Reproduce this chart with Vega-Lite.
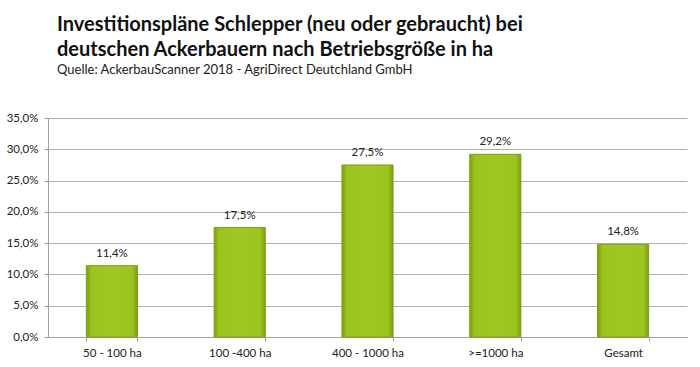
{
  "$schema": "https://vega.github.io/schema/vega-lite/v6.json",
  "width": 639,
  "height": 219,
  "autosize": {"type": "none"},
  "padding": {"left": 48, "top": 118, "right": 13, "bottom": 30},
  "background": "white",
  "title": {
    "text": ["Investitionspläne Schlepper (neu oder gebraucht) bei", "deutschen Ackerbauern nach Betriebsgröße in ha"],
    "subtitle": "Quelle: AckerbauScanner 2018 - AgriDirect Deutchland GmbH",
    "anchor": "start",
    "frame": "group",
    "dx": 9,
    "offset": 35,
    "font": "Lato",
    "fontSize": 20,
    "fontWeight": "bold",
    "lineHeight": 25,
    "color": "#111111",
    "subtitleFont": "Lato",
    "subtitleFontSize": 13,
    "subtitleColor": "#222222",
    "subtitlePadding": 4
  },
  "config": {
    "locale": {"number": {"decimal": ",", "thousands": ".", "grouping": [3], "currency": ["", " €"]}},
    "view": {"stroke": null},
    "font": "Lato"
  },
  "data": {
    "values": [
      {"kategorie": "50 - 100 ha", "wert": 0.114},
      {"kategorie": "100 -400 ha", "wert": 0.175},
      {"kategorie": "400 - 1000 ha", "wert": 0.275},
      {"kategorie": ">=1000 ha", "wert": 0.292},
      {"kategorie": "Gesamt", "wert": 0.148}
    ]
  },
  "encoding": {
    "x": {
      "field": "kategorie",
      "type": "nominal",
      "sort": null,
      "scale": {"paddingInner": 0.6, "paddingOuter": 0.3},
      "axis": {
        "title": null,
        "labelAngle": 0,
        "labelFontSize": 11.5,
        "labelColor": "#222222",
        "labelPadding": 6,
        "domainColor": "#a0a0a0",
        "tickColor": "#a0a0a0",
        "tickBand": "extent",
        "tickSize": 4,
        "grid": false
      }
    },
    "y": {
      "field": "wert",
      "type": "quantitative",
      "scale": {"domain": [0, 0.35], "nice": false},
      "axis": {
        "title": null,
        "format": ".1%",
        "values": [0, 0.05, 0.1, 0.15, 0.2, 0.25, 0.3, 0.35],
        "labelFontSize": 11.5,
        "labelColor": "#222222",
        "labelPadding": 6,
        "domainColor": "#a0a0a0",
        "tickColor": "#a0a0a0",
        "tickSize": 4,
        "gridColor": "#b0b0b0",
        "gridWidth": 1
      }
    }
  },
  "layer": [
    {
      "mark": {
        "type": "bar",
        "stroke": "#7f9e14",
        "strokeWidth": 1,
        "color": {
          "gradient": "linear",
          "x1": 0, "y1": 0, "x2": 1, "y2": 0,
          "stops": [
            {"offset": 0, "color": "#7d9c12"},
            {"offset": 0.1, "color": "#9cc41e"},
            {"offset": 0.5, "color": "#a2c923"},
            {"offset": 0.9, "color": "#9cc41e"},
            {"offset": 1, "color": "#7d9c12"}
          ]
        }
      }
    },
    {
      "mark": {"type": "text", "dy": -12, "fontSize": 11.5, "color": "#222222", "font": "Lato"},
      "encoding": {
        "text": {"field": "wert", "type": "quantitative", "format": ".1%"}
      }
    }
  ]
}
